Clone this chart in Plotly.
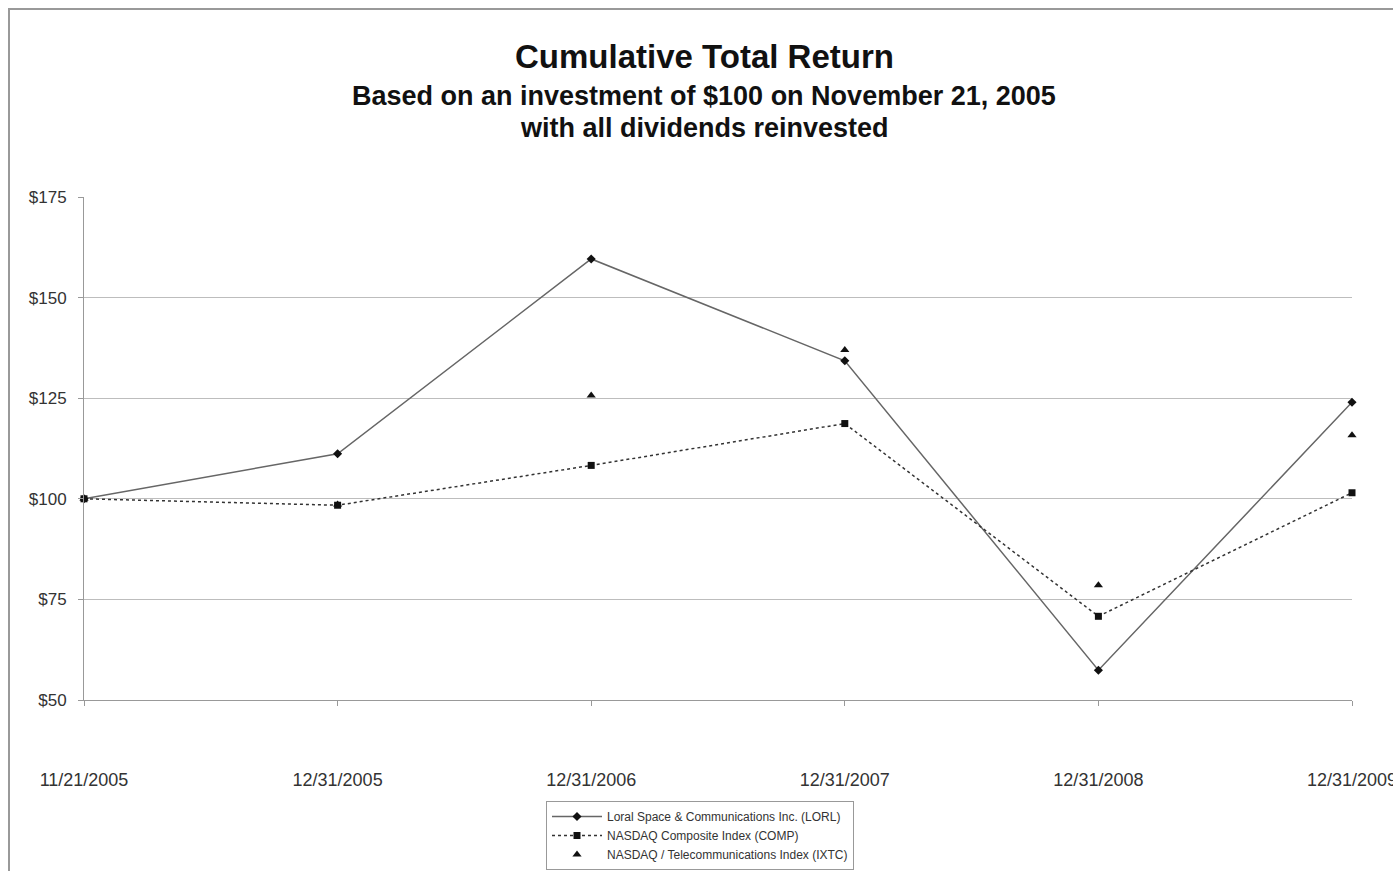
import plotly.graph_objects as go

dates = ["11/21/2005", "12/31/2005", "12/31/2006", "12/31/2007", "12/31/2008", "12/31/2009"]
lorl = [100, 111.2, 159.6, 134.3, 57.4, 124.0]
comp = [100, 98.4, 108.3, 118.7, 70.8, 101.5]
ixtc = [100, 98.6, 125.7, 137.0, 78.5, 115.8]
y_ticks = [50, 75, 100, 125, 150, 175]
y_tick_text = ["$50", "$75", "$100", "$125", "$150", "$175"]

names = ["Loral Space & Communications Inc. (LORL)",
         "NASDAQ Composite Index (COMP)",
         "NASDAQ / Telecommunications Index (IXTC)"]

FONT = "Liberation Sans, Arial, sans-serif"

fig = go.Figure()
fig.add_trace(go.Scatter(
    x=dates, y=ixtc, name=names[2], mode="markers", legendrank=3,
    cliponaxis=False,
    marker=dict(symbol="triangle-up", size=8, color="#111")))
fig.add_trace(go.Scatter(
    x=dates, y=lorl, name=names[0], mode="lines+markers", legendrank=1,
    cliponaxis=False,
    line=dict(color="#666", width=1.5),
    marker=dict(symbol="diamond", size=7, color="#111")))
fig.add_trace(go.Scatter(
    x=dates, y=comp, name=names[1], mode="lines+markers", legendrank=2,
    cliponaxis=False,
    line=dict(color="#333", width=1.5, dash="dot"),
    marker=dict(symbol="square", size=7, color="#111")))

L, R, T, B = 84, 1352, 197, 700
W, H = 1393, 871
pw, ph = R - L, B - T

def px(x):
    return (x - L) / pw

def py(y):
    return (B - y) / ph

fig.update_layout(
    width=W, height=H,
    margin=dict(l=L, r=W - R, t=T, b=H - B, autoexpand=False),
    paper_bgcolor="white", plot_bgcolor="white",
    font=dict(family=FONT, color="#333"),
    showlegend=True,
    legend=dict(x=px(546), y=py(801), xanchor="left", yanchor="top",
                bordercolor="#999", borderwidth=1, bgcolor="white",
                font=dict(size=12, color="#333"), itemwidth=50,
                tracegroupgap=0, itemsizing="trace"),
    xaxis=dict(type="category", range=[0, 5], showgrid=False,
               showline=True, linecolor="#999", linewidth=1,
               ticks="outside", ticklen=5, tickcolor="#999",
               tickfont=dict(size=18, color="#333"),
               ticklabelstandoff=58, zeroline=False, automargin=False),
    yaxis=dict(range=[50, 175], tickvals=y_ticks, ticktext=y_tick_text,
               showgrid=True, gridcolor="#bdbdbd", gridwidth=1,
               showline=True, linecolor="#999", linewidth=1,
               ticks="outside", ticklen=5, tickcolor="#999",
               tickfont=dict(size=17, color="#333"),
               ticklabelstandoff=8, zeroline=False, automargin=False),
    annotations=[
        dict(text="<b>Cumulative Total Return</b>", x=px(704), y=py(56),
             xref="paper", yref="paper", xanchor="center", yanchor="middle",
             showarrow=False, font=dict(size=33, color="#111", family=FONT)),
        dict(text="<b>Based on an investment of $100 on November 21, 2005</b>",
             x=px(704), y=py(96), xref="paper", yref="paper",
             xanchor="center", yanchor="middle", showarrow=False,
             font=dict(size=27, color="#111", family=FONT)),
        dict(text="<b>with all dividends reinvested</b>",
             x=px(704), y=py(128), xref="paper", yref="paper",
             xanchor="center", yanchor="middle", showarrow=False,
             font=dict(size=27, color="#111", family=FONT)),
    ],
    shapes=[
        dict(type="rect", xref="paper", yref="paper",
             x0=px(9), x1=px(1420), y0=py(9), y1=py(900),
             line=dict(color="#999", width=2), fillcolor="rgba(0,0,0,0)",
             layer="below"),
    ],
)

fig.write_html("out.html")
